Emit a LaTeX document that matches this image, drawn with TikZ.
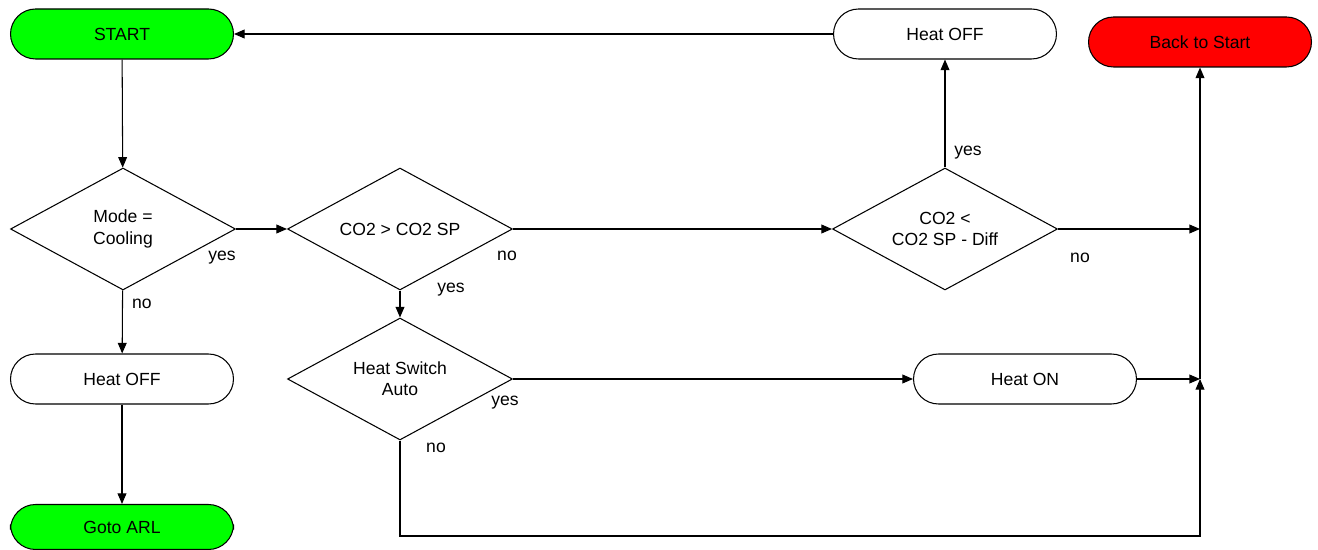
\documentclass[tikz,border=0pt]{standalone}
\usepackage{fontspec}
\setmainfont{Liberation Sans}
\usetikzlibrary{shapes.geometric,arrows.meta}
\definecolor{gogreen}{RGB}{0,255,0}
\definecolor{backred}{RGB}{255,0,0}

\begin{document}
\begin{tikzpicture}[x=0.02cm,y=-0.02cm,line width=0.6pt,
    every node/.style={black,font=\fontsize{10}{12}\selectfont},
    term/.style={draw,rounded corners=0.5cm,minimum width=4.46cm,minimum height=1cm,inner sep=0pt},
    decide/.style={draw,diamond,aspect=1.85,minimum width=4.5cm,minimum height=2.44cm,inner sep=0pt,align=center},
    flow/.style={-{Triangle[length=6pt,width=5pt]}},
    lbl/.style={inner sep=1pt}]
    	\useasboundingbox (0,0) rectangle (1318,550);

    	% left column
    	\node[term,fill=gogreen] (start) at (122,34) {START};
    	\node[decide] (mode) at (123,229) {Mode =\\Cooling};
    	\node[term] (off1) at (122,379) {Heat OFF};
    	\node[term,fill=gogreen,minimum height=0.9cm] (arl) at (122,527) {Goto ARL};

    	% middle column
    	\node[decide] (co2hi) at (400,229) {CO2 > CO2 SP};
    	\node[decide] (auto) at (400,379) {Heat Switch\\Auto};

    	% right part
    	\node[decide] (co2lo) at (945,229) {CO2 <\\CO2 SP - Diff};
    	\node[term] (off2) at (945,34) {Heat OFF};
    	\node[term] (on) at (1025,379) {Heat ON};
    	\node[term,fill=backred] (back) at (1200,42) {Back to Start};

    	\coordinate (jlo) at (1200,229);
    	\coordinate (jon) at (1200,379);
    	\coordinate (jbot) at (1200,536);

    	\draw[flow] (start) -- (mode);
    	\draw[flow] (mode) -- (co2hi);
    	\draw[flow] (mode) -- (off1);
    	\draw[flow] (off1) -- (arl);
    	\draw[flow] (co2hi) -- (auto);
    	\draw[flow] (co2hi) -- (co2lo);
    	\draw[flow] (co2lo) -- (off2);
    	\draw[flow] (off2) -- (start);
    	\draw[flow] (co2lo) -- (jlo);
    	\draw[flow] (auto) -- (on);
    	\draw[flow] (on) -- (jon);
    	\draw[flow] (auto.south) |- (jbot) -- (jon);
    	\draw[flow] (jon) -- (back);

    	% branch labels
    	\node[lbl] (modeyes) at (222,258) {yes};
    	\node[lbl] (modeno) at (142,304) {no};
    	\node[lbl] (hino) at (507,256) {no};
    	\node[lbl] (hiyes) at (451,290) {yes};
    	\node[lbl] (autoyes) at (505,403) {yes};
    	\node[lbl] (autono) at (436,448) {no};
    	\node[lbl] (loyes) at (968,153) {yes};
    	\node[lbl] (lono) at (1080,258) {no};
    \end{tikzpicture}
\end{document}
